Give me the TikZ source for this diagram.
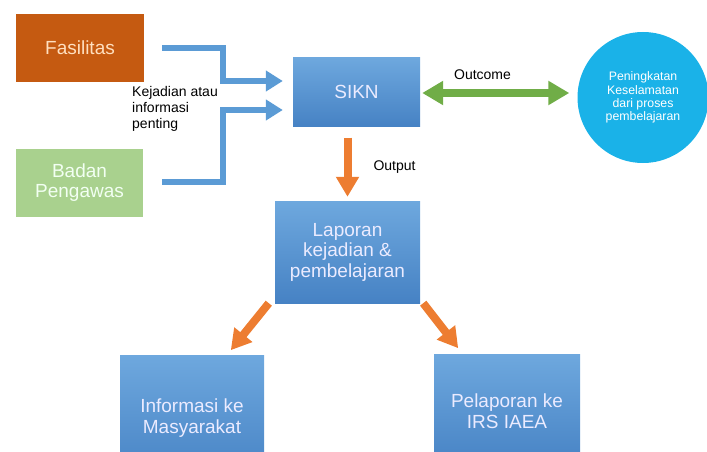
\documentclass[tikz,border=0pt]{standalone}
\usepackage{fontspec}
\setmainfont{Liberation Sans}
\usetikzlibrary{arrows.meta}
\definecolor{fasorange}{HTML}{C55A11}
\definecolor{badgreen}{HTML}{A9D18E}
\definecolor{boxtop}{HTML}{6EA8DE}
\definecolor{boxbot}{HTML}{4682C4}
\definecolor{arrblue}{HTML}{5B9BD5}
\definecolor{arrgreen}{HTML}{70AD47}
\definecolor{arrorange}{HTML}{ED7D31}
\definecolor{circblue}{HTML}{1AB2E8}
\begin{document}
\begin{tikzpicture}[x=1pt,y=-1pt,
  bigtext/.style={font=\fontsize{19}{20.5}\selectfont, align=center},
  smalltext/.style={font=\fontsize{14}{16}\selectfont, inner sep=0pt},
  bluebox/.style={bigtext, rectangle, top color=boxtop, bottom color=boxbot, draw=none, text=white!92!blue},
  bluearrow/.style={draw=arrblue, line width=6pt, -{Triangle[width=20pt,length=17pt]}},
  orangearrow/.style={draw=arrorange, line width=8pt, -{Triangle[width=22pt,length=20pt]}}]
 \path[use as bounding box] (0,0) rectangle (707,452);
 % sources
 \node[bigtext, fill=fasorange, text=orange!25, minimum width=128pt, minimum height=68pt] (fas) at (80,48) {Fasilitas};
 \node[bigtext, fill=badgreen, text=green!5, minimum width=127pt, minimum height=68pt] (bad) at (79.5,182.5) {Badan\\Pengawas};
 % system and outputs
 \node[bluebox, minimum width=127pt, minimum height=69pt] (sikn) at (356.5,92) {SIKN};
 \node[bluebox, minimum width=145pt, minimum height=102pt] (lap) at (347.5,252) {Laporan\\kejadian \&\\pembelajaran};
 \node[bluebox, minimum width=144pt, minimum height=126pt] (info) at (192,418) {Informasi ke\\Masyarakat};
 \node[bluebox, minimum width=146pt, minimum height=114pt] (irs) at (507,411) {Pelaporan ke\\IRS IAEA};
 \node[circle, fill=circblue, minimum size=131pt, text=white, align=center, font=\fontsize{12.3}{13.2}\selectfont] (circ) at (643,97.5) {Peningkatan\\Keselamatan\\dari proses\\pembelajaran};
 % arrows into SIKN
 \draw[bluearrow] ([xshift=18pt]fas.east) -- ++(61,0) |- ([xshift=-10pt,yshift=11pt]sikn.west);
 \draw[bluearrow] ([xshift=19pt,yshift=1pt]bad.east) -- ++(61,0) |- ([xshift=-10pt,yshift=-18pt]sikn.west);
 \node[smalltext, anchor=north west, align=left] (kej) at (132,86) {Kejadian atau\\informasi\\penting};
 % outcome
 \draw[draw=arrgreen, line width=7pt, {Triangle[width=23pt,length=21pt]}-{Triangle[width=23pt,length=21pt]}]
   ([xshift=2pt,yshift=-1pt]sikn.east) -- ([xshift=-8pt,yshift=-1pt]sikn.east -| circ.west)
   node[smalltext, pos=0.41, above=10pt] (outc) {Outcome};
 % output
 \draw[orangearrow] ([yshift=-11pt]sikn.south -| lap.north) -- ([yshift=4pt]lap.north)
   node[smalltext, midway, right=22pt] (outp) {Output};
 \draw[orangearrow] ([xshift=-6pt]lap.south west) -- ++(-38,47);
 \draw[orangearrow] ([xshift=3pt]lap.south east) -- ++(35,45);
\end{tikzpicture}
\end{document}
